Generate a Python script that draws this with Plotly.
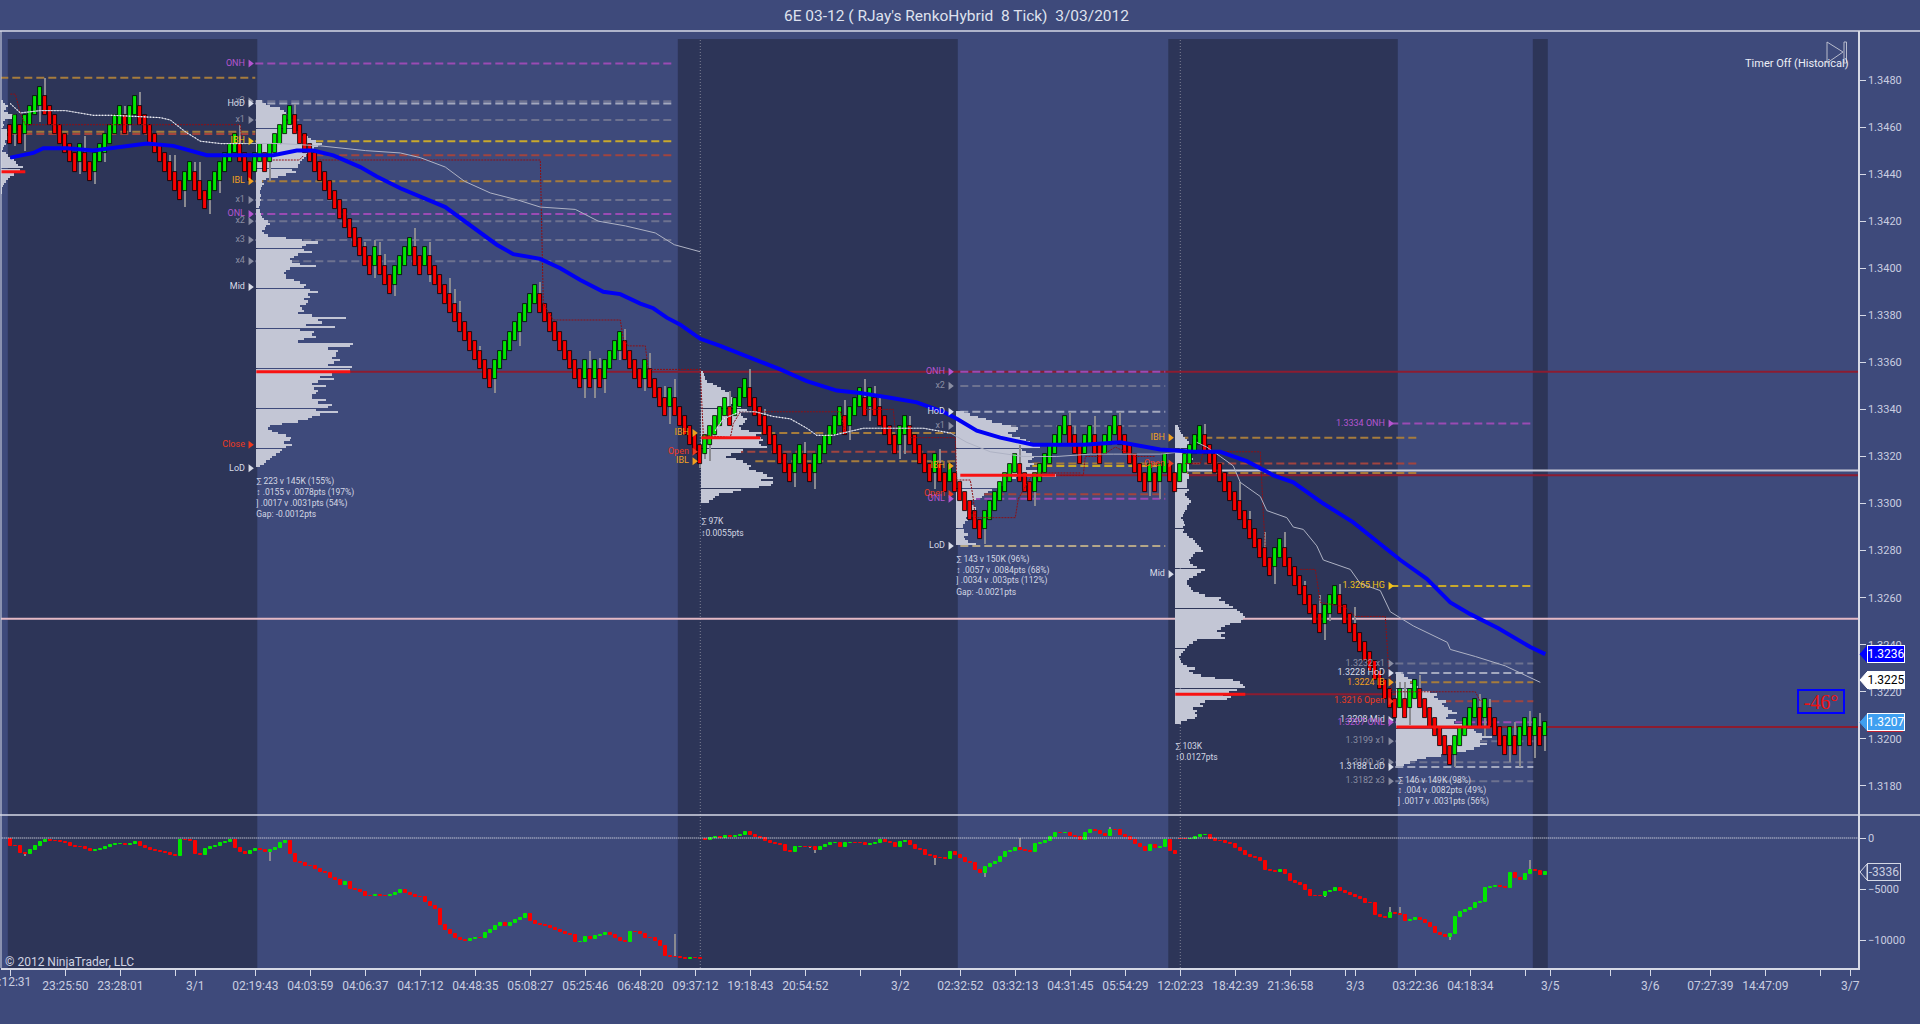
import plotly.graph_objects as go

# ---------- price panel: 8 tick renko bricks (close of each brick) ----------
brick_close = [
 1.3453,1.3465,1.3453,1.3465,1.3469,1.3473,1.3477,1.3465,1.3461,1.3457,
 1.3453,1.3449,1.3445,1.3441,1.3453,1.3441,1.3437,1.3449,1.3453,1.3457,
 1.3461,1.3465,1.3469,1.3457,1.3469,1.3473,1.3461,1.3457,1.3453,1.3449,
 1.3445,1.3441,1.3437,1.3433,1.3429,1.3441,1.3445,1.3433,1.3429,1.3425,
 1.3437,1.3441,1.3445,1.3449,1.3453,1.3457,1.3445,1.3441,1.3437,1.3449,
 1.3453,1.3441,1.3453,1.3457,1.3461,1.3465,1.3469,1.3457,1.3453,1.3449,
 1.3445,1.3441,1.3437,1.3433,1.3429,1.3425,1.3421,1.3417,1.3413,1.3409,
 1.3405,1.3401,1.3397,1.3409,1.3397,1.3393,1.3389,1.3401,1.3405,
 1.3409,1.3413,1.3401,1.3397,1.3409,1.3397,1.3393,1.3389,1.3385,1.3381,
 1.3377,1.3373,1.3369,1.3365,1.3361,1.3357,1.3353,1.3349,1.3361,1.3365,
 1.3369,1.3373,1.3377,1.3381,1.3385,1.3389,1.3393,1.3381,1.3377,1.3373,
 1.3369,1.3365,1.3361,1.3357,1.3353,1.3349,1.3361,1.3349,1.3361,1.3349,
 1.3361,1.3365,1.3369,1.3373,1.3361,1.3357,1.3353,1.3349,1.3361,1.3349,
 1.3345,1.3341,1.3337,1.3349,1.3337,1.3333,1.3329,1.3325,1.3321,1.3317,
 1.3329,1.3333,1.3337,1.3341,
 1.3345,1.3333,1.3345,1.3349,1.3353,1.3341,1.3337,1.3333,1.3329,1.3325,
 1.3321,1.3317,1.3313,1.3309,1.3321,1.3325,1.3313,1.3309,1.3321,1.3325,
 1.3329,1.3333,1.3337,1.3341,1.3329,1.3341,1.3345,1.3349,1.3337,1.3349,
 1.3337,1.3333,1.3329,1.3325,1.3321,1.3333,1.3337,1.3325,1.3321,1.3317,
 1.3313,1.3309,1.3321,1.3309,1.3305,1.3317,1.3305,1.3301,1.3297,1.3293,
 1.3289,1.3285,1.3297,1.3301,1.3305,1.3309,1.3313,1.3317,1.3321,1.3309,
 1.3305,1.3301,1.3313,1.3317,1.3321,1.3325,1.3329,1.3333,1.3337,1.3325,
 1.3321,1.3317,1.3329,
 1.3333,1.3321,1.3317,1.3329,1.3333,1.3337,1.3325,1.3321,1.3317,1.3313,
 1.3309,1.3305,1.3317,1.3305,1.3317,1.3321,1.3309,1.3305,1.3317,1.3321,
 1.3325,1.3329,1.3333,1.3321,1.3317,1.3313,1.3309,1.3305,1.3301,1.3297,
 1.3293,1.3289,1.3285,1.3281,1.3277,1.3273,1.3269,1.3281,1.3285,1.3273,
 1.3269,1.3265,1.3261,1.3257,1.3253,1.3249,1.3245,1.3257,1.3261,1.3265,
 1.3253,1.3249,1.3245,1.3241,1.3237,
 1.3233,1.3229,1.3225,1.3221,1.3217,1.3213,1.3209,1.3221,1.3209,1.3221,
 1.3225,1.3213,1.3209,1.3205,1.3201,1.3197,1.3193,1.3189,1.3201,1.3205,
 1.3209,1.3213,1.3217,1.3205,1.3217,1.3205,1.3201,1.3197,1.3193,1.3205,
 1.3193,1.3205,1.3209,1.3197,1.3209,1.3197,1.3207]
last_brick_open = 1.3201
brick_size = 0.0008

wick_bar = [1,3,6,7,14,15,17,19,23,24,26,32,33,35,37,38,40,42,46,52,57,71,73,73,74,75,
            77,81,84,84,88,89,90,94,97,102,106,115,116,117,118,119,122,123,127,128,131,132,133,
            138,139,140,144,148,151,157,159,161,167,168,171,172,173,174,178,179,180,185,186,195,202,205,
            212,213,217,222,228,230,239,246,248,251,253,255,259,262,263,264,266,269,
            278,279,280,282,289,294,295,296,300,301,302,304,305,306,307]
wick_price = [1.3452,1.3450,1.3462,1.3481,1.3440,1.3456,1.3436,1.3445,1.3469,1.3458,1.3475,1.3448,1.3448,1.3426,1.3445,1.3445,1.3423,1.3432,1.3461,1.3437,1.3470,1.3411,1.3412,1.3396,1.3411,1.3406,
            1.3388,1.3417,1.3411,1.3394,1.3396,1.3391,1.3386,1.3367,1.3347,1.3367,1.3394,1.3345,1.3365,1.3345,1.3362,1.3347,1.3361,1.3374,1.3348,1.3364,1.3350,1.3334,1.3353,
            1.3315,1.3319,1.3318,1.3348,1.3357,1.3340,1.3307,1.3326,1.3306,1.3344,1.3327,1.3353,1.3335,1.3350,1.3345,1.3319,1.3321,1.3337,1.3306,1.3323,1.3283,1.3325,1.3299,
            1.3339,1.3333,1.3337,1.3339,1.3303,1.3302,1.3334,1.3309,1.3297,1.3288,1.3266,1.3288,1.3267,1.3261,1.3242,1.3250,1.3266,1.3256,
            1.3224,1.3224,1.3206,1.3227,1.3188,1.3219,1.3201,1.3217,1.3190,1.3207,1.3188,1.3212,1.3192,1.3211,1.3195]

# ---------- moving average (blue) and session VWAP lines ----------
ema_bar = [0,4.6,6.6,11.3,16.6,20,24,27.3,32.6,39.3,47.3,52.6,57.3,60.6,64.6,70,73.3,78,87,93.3,97.3,100.6,106,110,114,118.6,122,126,128.6,131.3,134,138,142,
           154,159.3,165.3,170,176,181.3,186.6,189.3,193.3,198,204.6,209.3,214.6,222,230,236.6,242,247.3,252.6,256.6,262.6,268.6,274,278,283.3,288,292,297.6,304,307]
ema_price = [1.3447,1.3449,1.3451,1.3451,1.3450,1.3451,1.3452,1.3453,1.3452,1.3448,1.3448,1.3448,1.3450,1.3450,1.3448,1.3443,1.3439,1.3434,1.3426,1.3416,1.3410,1.3406,1.3404,1.3400,1.3395,1.3390,1.3389,1.3385,1.3383,1.3379,1.3376,1.3370,1.3367,
             1.3357,1.3352,1.3348,1.3347,1.3345,1.3343,1.3339,1.3336,1.3331,1.3328,1.3325,1.3325,1.3325,1.3326,1.3323,1.3322,1.3322,1.3318,1.3312,1.3309,1.3300,1.3292,1.3283,1.3276,1.3268,1.3258,1.3253,1.3247,1.3239,1.3236]

vwap1_bar = [0,2,6,11,16.6,20.6,30,32,35,38,42,47,51,54,62,71,78,82,87,90.8,96,101.5,106,113,117.6,123,129,132.8,138]
vwap1_price = [1.3470,1.3466,1.3467,1.3467,1.3465,1.3465,1.3464,1.3463,1.3458,1.3454,1.3453,1.3453,1.3453,1.3453,1.3452,1.3450,1.3449,1.3447,1.3443,1.3437,1.3432,1.3429,1.3426,1.3425,1.3420,1.3418,1.3415,1.3410,1.3407]
vwap2_bar = [141,142.6,146,149,152.6,156,159.3,161.3,164.6,170.6,176,182.6,188,191.3,196,202.6,209.3,216,220.6,230,234.6]
vwap2_price = [1.3331,1.3336,1.3339,1.3339,1.3337,1.3336,1.3332,1.3329,1.3329,1.3332,1.3332,1.3332,1.3330,1.3326,1.3322,1.3320,1.3320,1.3321,1.3321,1.3321,1.3322]
vwap3_bar = [237.3,239.3,242,244.6,246,250,251.3,255.3,256.6,258.6,261.3,262.6,268,270,274,276,280.6,285.3,287.4,288,293,299,306]
vwap3_price = [1.3326,1.3324,1.3320,1.3316,1.3309,1.3303,1.3297,1.3294,1.3290,1.3289,1.3282,1.3276,1.3272,1.3266,1.3263,1.3254,1.3248,1.3243,1.3241,1.3238,1.3235,1.3231,1.3224]

# ---------- dotted dark red swing steps ----------
swing_bar = [0,1,2,3,46,46.3,None,52.5,57.8,58.7,None,61.8,106,106.6,108.6,122,122.6,123.6,127,127.6,138,138.6,144,144.6,146,166,167,None,
             171,176.6,177,None,180,189,189.3,192,192.6,193,201,201.6,204.6,214,None,210,214.6,215,218,221,225,229,None,
             235,238,238.6,250,250.6,251,None,258,261,262,267,269,275,275.6,276.3,293,294]
swing_price = [1.3474,1.3474,1.3466,1.3461,1.3461,1.3454,None,1.3446,1.3446,1.3448,None,1.3446,1.3446,1.3385,1.3378,1.3378,1.3370,1.3367,1.3367,1.3357,1.3357,1.3329,1.3328,1.3334,1.3339,1.3339,1.3330,None,
               1.3340,1.3340,1.3331,None,1.3328,1.3328,1.3310,1.3310,1.3302,1.3294,1.3294,1.3302,1.3313,1.3313,None,1.3312,1.3312,1.3320,1.3320,1.3324,1.3320,1.3320,None,
               1.3317,1.3317,1.3322,1.3322,1.3296,1.3281,None,1.3272,1.3272,1.3258,1.3256,1.3252,1.3252,1.3232,1.3220,1.3220,1.3216]

# ---------- market profiles ----------
profile_start = [-2, 49.2, 138.2, 189.2, 233.0, 277.2]
profile_top = [1.3471, 1.3471, 1.3356, 1.3339, 1.3333, 1.3228]
profile0 = [3,5,8,6,4,8,16,12,5,3,4,3,7,9,7,10,8,5,6,4,3,2,6,8,10,14,16,18,23,20,16,14,10,8,6,4,3,2,2,1]
profile1 = [6,10,14,24,28,30,32,34,30,34,38,36,40,44,46,52,55,60,66,62,58,54,52,50,48,46,44,42,42,36,40,30,22,
            10,6,8,6,5,4,4,5,4,5,4,4,3,4,4,5,6,8,12,14,10,9,6,8,12,30,46,62,50,46,48,56,42,38,34,36,44,60,
            34,30,28,30,30,38,44,50,48,54,62,52,54,48,52,50,44,46,48,42,56,90,62,66,50,79,44,58,56,60,48,42,
            97,94,72,82,80,80,76,84,78,72,96,94,70,76,64,78,62,56,70,58,62,60,56,56,70,62,76,72,60,82,64,56,
            52,42,26,14,12,16,22,30,35,34,28,36,30,26,24,20,16,14,10,8,4]
profile2 = [2,3,4,4,6,12,16,20,24,28,30,32,34,35,30,40,46,38,40,42,46,44,42,38,40,48,60,55,60,62,58,60,66,42,40,30,25,35,42,46,50,48,55,62,66,72,60,72,70,58,40,32,18,14,12,8]
profile3 = [8,14,22,30,36,46,55,62,60,52,56,64,70,74,80,84,66,70,76,78,76,72,78,74,70,82,85,100,60,55,50,48,42,36,32,28,26,20,15,12,18,20,16,14,18,10,12,9,7,7,8,8,12,8,9,12,20]
profile4 = [3,4,5,6,8,10,12,14,14,12,12,10,14,16,18,16,14,14,14,12,12,14,14,12,12,12,12,14,12,10,12,14,16,14,12,12,10,9,
            8,6,8,9,10,8,9,8,12,14,18,20,22,24,26,28,20,18,16,14,15,18,22,30,26,22,18,14,12,12,14,16,18,24,30,46,
            44,50,54,58,62,65,68,70,68,66,55,50,46,42,50,46,50,22,18,14,12,10,8,6,4,5,6,8,12,20,14,18,26,40,58,65,68,70,
            62,54,48,56,52,30,25,28,18,22,20,22,20,12,6]
profile5 = [5,8,12,16,14,18,22,26,34,41,38,42,50,46,48,52,56,61,52,50,60,58,68,70,78,80,86,96,86,84,91,84,78,70,61,45,30,21,14,8]
profiles = [profile0, profile1, profile2, profile3, profile4, profile5]

# point of control segments: start bar, end bar, price
poc_start = [-2, 49.2, 138.2, 190, 233, 277.2]
poc_end = [3, 68, 150, 209, 247, 296]
poc_price = [1.3441, 1.3356, 1.3328, 1.3312, 1.3219, 1.3205]

# ---------- dashed session levels ----------
level_start = [-2,-2,-2, 49,49,49,49,49,49,49,49,49,49,49,49, 145,149,149, 190,190,190,190,190,190,190,190,190,
               234,234,234,276,276, 277,277,277,277,277,277,277,277,277]
level_end = [49,49,49, 133,133,133,133,133,133,133,133,133,133,133,133, 189,189,189, 231,231,231,231,231,231,231,231,231,
             282,282,282,304.6,304.6, 304.6,304.6,304.6,304.6,304.6,304.6,304.6,304.6,304.6]
level_price = [1.3481,1.3458,1.3457, 1.3487,1.3471,1.3470,1.3463,1.3454,1.3448,1.3437,1.3429,1.3423,1.3420,1.3412,1.3403,
               1.3322,1.3330,1.3318, 1.3356,1.3350,1.3339,1.3333,1.3316,1.3317,1.3304,1.3302,1.3282,
               1.3328,1.3317,1.3313,1.3334,1.3265, 1.3232,1.3228,1.3224,1.3216,1.3207,1.3199,1.3190,1.3188,1.3182]
level_kind = ['orange','orange','redb', 'purple','gray','hod','gray','gold','redb','orange','gray','purple','gray','gray','gray',
              'redb','orange','orange', 'purple','gray','hod','gray','gold','orange','redb','purple','tan',
              'orange','redb','orange','purple','gold', 'gray','hod','orange','redb','purple','gray','gray','hod','gray']
long_start = [49.2, 190, 234, -2, 233, 277.2]
long_price = [1.3356, 1.3312, 1.3314, 1.3251, 1.3219, 1.3205]
long_end = [369.6, 369.6, 369.6, 369.6, 277.5, 369.6]
long_kind = ['darkred','darkred','pale','pink','darkred','darkred']

# ---------- labels with arrows ----------
label_text = ['ONH','x3','HoD','x1','IBH','IBL','x1','ONL','x2','x3','x4','Mid','Close','LoD',
              'IBH','Open','IBL',
              'ONH','x2','HoD','x1','IBH','Open','ONL','LoD',
              'IBH','Open','Mid',
              '1.3334 ONH','1.3265 HG','1.3232 x1','1.3228 HoD','1.3224 IB','1.3216 Open','1.3208 Mid','1.3207 ONL','1.3199 x1','1.3190 x2','1.3188 LoD','1.3182 x3']
label_bar = [48]*14 + [136.8]*3 + [188]*8 + [232]*3 + [276]*12
label_price = [1.3487,1.3471,1.3470,1.3463,1.3454,1.3437,1.3429,1.3423,1.3420,1.3412,1.3403,1.3392,1.3325,1.3315,
               1.3330,1.3322,1.3318,
               1.3356,1.3350,1.3339,1.3333,1.3316,1.3304,1.3302,1.3282,
               1.3328,1.3317,1.3270,
               1.3334,1.3265,1.3232,1.3228,1.3224,1.3216,1.3208,1.3207,1.3199,1.3190,1.3188,1.3182]
label_kind = ['purple','gray','hod','gray','gold','orange','gray','purple','gray','gray','gray','hod','red','hod',
              'orange','red','orange',
              'purple','gray','hod','gray','orange','red','purple','hod',
              'orange','red','hod',
              'purple','gold','gray','hod','orange','red','hod','purple','gray','gray','hod','gray']

stats_text = ['∑ 223 v 145K (155%)','↕ .0155 v .0078pts (197%)','] .0017 v .0031pts (54%)','Gap: -0.0012pts',
              '∑ 97K','↕0.0055pts',
              '∑ 143 v 150K (96%)','↕ .0057 v .0084pts (68%)','] .0034 v .003pts (112%)','Gap: -0.0021pts',
              '∑ 103K','↕0.0127pts',
              '∑ 146 v 149K (98%)','↕ .004 v .0082pts (49%)','] .0017 v .0031pts (56%)']
stats_bar = [49.2]*4 + [138.2]*2 + [189.2]*4 + [233]*2 + [277.5]*3
stats_price = [1.3309,1.33045,1.3300,1.3295, 1.3292,1.3287, 1.3276,1.32715,1.3267,1.3262, 1.31965,1.3192, 1.3182,1.3178,1.3173]

# ---------- delta panel (close per bar; each reset starts a new series) ----------
delta_first_bar = [0, 139, 234]
delta_first_open = [-100, -130, -50]
delta_s0 = [-750,-820,-1470,-1540,-1140,-820,-430,-230,-260,-330,-360,-490,-750,-880,-920,-1080,-1240,-1210,-1080,-880,
 -720,-590,-560,-720,-590,-430,-820,-1010,-1140,-1310,-1370,-1470,-1640,-1800,-230,-230,-330,-1540,-1670,-1080,
 -880,-820,-490,-360,-160,-980,-1340,-1570,-1310,-1080,-1210,-1340,-1140,-980,-490,-260,-1540,-2320,-2450,-2710,
 -2780,-3010,-3370,-3430,-3920,-4150,-4580,-4350,-4970,-5130,-5330,-5660,-5660,-5620,-5660,-5720,-5560,-5400,-5130,-5400,
 -5560,-5790,-5790,-6310,-6640,-6930,-8500,-9060,-9380,-9810,-9970,-10140,-9910,-9810,-9810,-9320,-9060,-8670,-8340,-8670,
 -8340,-8080,-7850,-7490,-8180,-8400,-8530,-8670,-8830,-9060,-9190,-9380,-9520,-10240,-10170,-9710,-9910,-9650,-9480,-9320,
 -9480,-9810,-10140,-10240,-9220,-9250,-9380,-9780,-9810,-10140,-10560,-11540,-11670,-11710,-11740,-11870,-11800,-11800,-11840]
delta_s1 = [-200,-30,70,30,160,130,230,330,590,290,130,-30,-290,-490,-620,-720,-1310,-1370,-920,-850,
 -850,-920,-1180,-920,-650,-520,-460,-850,-520,-460,-460,-520,-650,-590,-520,-200,-390,-520,-850,-360,
 -260,-720,-1110,-1180,-1670,-1770,-2000,-2000,-2090,-1340,-1670,-1930,-2320,-2490,-3140,-3400,-2810,-2550,-2320,-1900,
 -1340,-1240,-1010,-1180,-1280,-1410,-620,-520,-260,130,460,460,520,200,130,-200,460,780,650,390,
 200,780,780,260,70,-200,-590,-920,-1240,-690,-1010,-850,-200,-1240,-1600]
delta_s2 = [-130,-130,-100,70,290,330,-70,-260,-330,-460,-590,-1010,-1310,-1670,-1830,-1960,-2220,-3140,-3240,-3300,
 -3140,-3530,-4250,-4380,-4610,-5100,-5660,-5660,-5660,-5260,-5170,-4870,-5170,-5430,-5590,-5820,-5980,-6410,-6410,-7550,
 -7720,-7880,-7390,-7490,-7550,-8180,-8040,-7880,-8040,-8310,-8700,-9290,-9520,-9680,-9420,-7720,-7230,-7060,-6900,-6410,
 -6250,-4940,-4840,-4710,-4840,-4940,-3400,-3960,-4120,-3530,-3140,-3240,-3630,-3336]
delta_sessions = [delta_s0, delta_s1, delta_s2]
delta_wick_bar = [3,52,133,161,185,195,202,220,263,276,288,304,278,160]
delta_wick_val = [-1700,-2290,-9380,-1500,-2650,-3790,-30,1100,-5750,-6740,-10000,-2160,-6740,-900]

# ---------- axes ----------
tick_bar = [0,11,22,33,37,49,60,71,82,93,104,115,126,137,148,159,170,178,190,201,212,223,234,245,256,267,269,281,292,303,308,320,328,340,351,362,368]
tick_text = ['','23:25:50','23:28:01','','3/1','02:19:43','04:03:59','04:06:37','04:17:12','04:48:35','05:08:27','05:25:46','06:48:20',
             '09:37:12','19:18:43','20:54:52','','3/2','02:32:52','03:32:13','04:31:45','05:54:29','12:02:23','18:42:39','21:36:58','','3/3',
             '03:22:36','04:18:34','','3/5','','3/6','07:27:39','14:47:09','','3/7']
first_tick_text = '23:12:31'
price_ticks = [1.3180,1.3200,1.3220,1.3240,1.3260,1.3280,1.3300,1.3320,1.3340,1.3360,1.3380,1.3400,1.3420,1.3440,1.3460,1.3480]
delta_ticks = [0,-5000,-10000]

dark_start = [-0.5, 133.5, 231.6, 304.5]
dark_end = [49.4, 189.5, 277.5, 307.5]
session_marks = [138, 234]

tag_price = [1.3236, 1.3225, 1.3207]
tag_delta = -3336

# ---------- styling ----------
BG = '#3e4a7b'; DARK = '#2d3558'; TXT = '#c9cde0'; FRAME = '#d6d9e6'
KIND = {'gray':'#6d7290','hod':'#a3a8be','purple':'#9a4bb4','gold':'#c9a92c','orange':'#a67c3c','redb':'#a1443f','tan':'#b4a688'}
LABEL = {'gray':'#8a8ea2','hod':'#d8dce8','purple':'#b455d0','gold':'#f2c21a','orange':'#f0a020','red':'#ee3a20'}
LONG = {'darkred':('#8c1c30',2),'pale':('#c8cad8',2),'pink':('#e4b9c4',2)}
UP = '#00e800'; DOWN = '#fa0000'; WICK = '#8a8a90'
X0, PX = 10.3, 5.0
L, R, T, B = 1, 1858, 31, 968
W = R - L; H = B - T; SPLIT = 815
def xp(px): return (px - L) / W
def yp(py): return (B - py) / H

n = len(brick_close)
bars = list(range(n))
brick_open = []
for i, c in enumerate(brick_close):
    up = i > 0 and c > brick_close[i - 1]
    brick_open.append(round(c - brick_size if up else c + brick_size, 4))
brick_open[-1] = last_brick_open
brick_color = [UP if c > o else DOWN for o, c in zip(brick_open, brick_close)]

fig = go.Figure()

# profiles
for start, top, rows in zip(profile_start, profile_top, profiles):
    fig.add_trace(go.Bar(orientation='h', y=[round(top - 0.0001 * i, 4) for i in range(len(rows))],
                         x=[w / PX for w in rows], base=start, width=0.000078,
                         marker=dict(color='#c3c6d5', line=dict(width=0)), showlegend=False))

# wicks and bricks
wick_base, wick_h = [], []
for b, p in zip(wick_bar, wick_price):
    mid = (brick_open[b] + brick_close[b]) / 2
    wick_base.append(min(mid, p)); wick_h.append(abs(p - mid))
fig.add_trace(go.Bar(x=wick_bar, y=wick_h, base=wick_base, width=0.22, marker=dict(color=WICK, line=dict(width=0)), showlegend=False))
fig.add_trace(go.Bar(x=bars, y=[abs(c - o) for o, c in zip(brick_open, brick_close)], base=[min(o, c) for o, c in zip(brick_open, brick_close)],
                     width=0.8, marker=dict(color=brick_color, line=dict(color='black', width=0.8)), showlegend=False))

# lines
fig.add_trace(go.Scatter(x=swing_bar, y=swing_price, mode='lines', line=dict(color='#8e0f14', width=1, dash='2px,1px'), connectgaps=False, showlegend=False))
for vb, vp in ((vwap1_bar, vwap1_price), (vwap2_bar, vwap2_price), (vwap3_bar, vwap3_price)):
    fig.add_trace(go.Scatter(x=vb, y=vp, mode='lines', line=dict(color='#aeb2c4', width=1), showlegend=False))
    db = [b if (b < 49.4 or 133.5 <= b < 189.5) else None for b in vb]
    fig.add_trace(go.Scatter(x=db, y=vp, mode='lines', line=dict(color='#f2f2f6', width=1.2, dash='1px,2px'), showlegend=False))
fig.add_trace(go.Scatter(x=ema_bar, y=ema_price, mode='lines', line=dict(color='#0000f5', width=4), showlegend=False))

# POC segments
for s, e, p in zip(poc_start, poc_end, poc_price):
    fig.add_trace(go.Scatter(x=[s, e], y=[p, p], mode='lines', line=dict(color='#f81212', width=3), showlegend=False))

# labels
fig.add_trace(go.Scatter(x=label_bar, y=label_price, mode='markers+text', text=label_text, textposition='middle left',
                         textfont=dict(family='Roboto', size=9, color=[LABEL[k] for k in label_kind]),
                         marker=dict(symbol='triangle-right', size=7, color=[LABEL[k] for k in label_kind]), showlegend=False))
fig.add_trace(go.Scatter(x=stats_bar, y=stats_price, mode='text', text=stats_text, textposition='middle right',
                         textfont=dict(family='Roboto', size=8.5, color='#d4d7e4'), showlegend=False))

# delta panel
dbars, dopen, dclose = [], [], []
for first, op, vals in zip(delta_first_bar, delta_first_open, delta_sessions):
    prev = op
    for k, v in enumerate(vals):
        dbars.append(first + k); dopen.append(prev); dclose.append(v); prev = v
dmap = {b: (o, c) for b, o, c in zip(dbars, dopen, dclose)}
dw_base, dw_h = [], []
for b, v in zip(delta_wick_bar, delta_wick_val):
    o, c = dmap[b]; m = (o + c) / 2
    dw_base.append(min(m, v)); dw_h.append(abs(v - m))
fig.add_trace(go.Bar(x=delta_wick_bar, y=dw_h, base=dw_base, width=0.22, yaxis='y2', marker=dict(color=WICK, line=dict(width=0)), showlegend=False))
dcolor = [UP if c > o else DOWN for o, c in zip(dopen, dclose)]
fig.add_trace(go.Bar(x=dbars, y=[abs(c - o) for o, c in zip(dopen, dclose)], base=[min(o, c) for o, c in zip(dopen, dclose)], width=0.72, yaxis='y2',
                     marker=dict(color=dcolor, line=dict(color=dcolor, width=1)), showlegend=False))
fig.add_trace(go.Scatter(x=[-2, 369.6], y=[0, 0], yaxis='y2', mode='lines', line=dict(color='#f4f4f8', width=1.2, dash='1px,1px'), showlegend=False))

# shapes
shapes = []
for s, e in zip(dark_start, dark_end):
    shapes.append(dict(type='rect', xref='x', yref='paper', x0=s, x1=e, y0=0, y1=yp(39), fillcolor=DARK, line=dict(width=0), layer='below'))
for m in session_marks:
    shapes.append(dict(type='line', xref='x', yref='paper', x0=m, x1=m, y0=0, y1=yp(39), line=dict(color='#7c8094', width=1, dash='1px,2px'), layer='below'))
for s, e, p, k in zip(long_start, long_end, long_price, long_kind):
    c, w = LONG[k]
    shapes.append(dict(type='line', xref='x', yref='y', x0=s, x1=e, y0=p, y1=p, line=dict(color=c, width=w), layer='below'))
for s, e, p, k in zip(level_start, level_end, level_price, level_kind):
    shapes.append(dict(type='line', xref='x', yref='y', x0=s, x1=e, y0=p, y1=p, line=dict(color=KIND[k], width=2, dash='8px,4px'), layer='below'))
for py in (T, SPLIT):
    shapes.append(dict(type='line', xref='paper', yref='paper', x0=-L / W, x1=xp(1920), y0=yp(py), y1=yp(py), line=dict(color=FRAME, width=1.5)))
shapes.append(dict(type='line', xref='paper', yref='paper', x0=xp(1), x1=xp(1), y0=0, y1=1, line=dict(color=FRAME, width=1)))
# historical-timer icon
shapes.append(dict(type='path', xref='paper', yref='paper', line=dict(color='#b9bccd', width=1),
                   path=f'M {xp(1827)} {yp(42)} L {xp(1843)} {yp(52)} L {xp(1827)} {yp(63)} Z'))
shapes.append(dict(type='rect', xref='paper', yref='paper', x0=xp(1844), x1=xp(1846.5), y0=yp(63), y1=yp(42), line=dict(color='#b9bccd', width=1)))
# arrow tips of the value tags
tag_fill = ['#0000ff', '#ffffff', '#3f9ff0']
for p, col in zip(tag_price, tag_fill):
    dy = 8 / 23530
    shapes.append(dict(type='path', xref='paper', yref='y', fillcolor=col, line=dict(color=col, width=1),
                       path=f'M {xp(1860)} {p} L {xp(1867)} {p + dy} L {xp(1867)} {p - dy} Z'))
shapes.append(dict(type='line', xref='paper', yref='y', x0=xp(1867), x1=xp(1903), y0=tag_price[2] - 9 / 23530, y1=tag_price[2] - 9 / 23530, line=dict(color='#c02030', width=1.5)))
dy2 = 8 / 51 * 5000
shapes.append(dict(type='path', xref='paper', yref='y2', fillcolor=BG, line=dict(color=FRAME, width=1),
                   path=f'M {xp(1860)} {tag_delta} L {xp(1867)} {tag_delta + dy2} L {xp(1867)} {tag_delta - dy2} Z'))

# annotations
ann = [
    dict(text="6E 03-12 ( RJay's RenkoHybrid \u00a08 Tick) \u00a03/03/2012", xref='paper', yref='paper', x=xp(956), y=yp(16), showarrow=False,
         font=dict(family='Roboto', size=15.5, color='#dfe2ee'), xanchor='center', yanchor='middle'),
    dict(text='Timer Off (Historical)', xref='paper', yref='paper', x=xp(1851), y=yp(63), showarrow=False,
         font=dict(family='Roboto', size=11, color='#eceef6'), xanchor='right', yanchor='middle'),
    dict(text='© 2012 NinjaTrader, LLC', xref='paper', yref='paper', x=xp(3), y=yp(962), showarrow=False,
         font=dict(family='Roboto', size=12, color='#d0d3e2'), xanchor='left', yanchor='middle'),
    dict(text=first_tick_text, xref='paper', yref='paper', x=xp(33), y=yp(982), showarrow=False, xanchor='right', yanchor='middle',
         font=dict(family='Roboto', size=12, color=TXT)),
    dict(text='-46°', xref='paper', yref='y', x=xp(1820.5), y=1.32159, showarrow=False, width=44, height=21,
         font=dict(family='Liberation Serif', size=20, color='#f01010'), bordercolor='#0000ff', borderwidth=2, borderpad=0, xanchor='center', yanchor='middle'),
]
tag_text_color = ['#ffffff', '#000000', '#ffffff']
for p, bg, fc in zip(tag_price, tag_fill, tag_text_color):
    ann.append(dict(text=f'{p:.4f}', xref='paper', yref='y', x=xp(1867), y=p, showarrow=False, xanchor='left', yanchor='middle', width=36, height=16,
                    bgcolor=bg, bordercolor='#ffffff', borderwidth=1, borderpad=0, font=dict(family='Roboto', size=12, color=fc)))
ann.append(dict(text=f'{tag_delta}', xref='paper', yref='y2', x=xp(1867), y=tag_delta, showarrow=False, xanchor='left', yanchor='middle', width=32, height=16,
                bgcolor=BG, bordercolor=FRAME, borderwidth=1, borderpad=0, font=dict(family='Roboto', size=12, color=TXT)))

axis_font = dict(family='Roboto', size=12, color=TXT)
y_font = dict(family='Roboto', size=11, color=TXT)
fig.update_layout(
    width=1920, height=1024, autosize=False, paper_bgcolor=BG, plot_bgcolor=BG, barmode='overlay', showlegend=False,
    margin=dict(l=L, r=1920 - R, t=T, b=1024 - B, pad=0), shapes=shapes, annotations=ann, bargap=0,
    xaxis=dict(range=[(L - X0) / PX, (R - X0) / PX], tickmode='array', tickvals=tick_bar, ticktext=tick_text, tickangle=0, showgrid=False, zeroline=False,
               anchor='y2', ticks='outside', ticklen=6, tickcolor=FRAME, tickwidth=1, tickfont=axis_font, showline=True, linecolor=FRAME, linewidth=1.5),
    yaxis=dict(domain=[yp(SPLIT), 1], range=[1.3480 - (SPLIT - 80) / 23530, 1.3480 + (80 - T) / 23530], side='right', anchor='x', tickmode='array', tickvals=price_ticks,
               tickformat='.4f', showgrid=False, zeroline=False, ticks='outside', ticklen=6, tickcolor=FRAME, tickfont=y_font, showline=True, linecolor=FRAME, linewidth=1.5),
    yaxis2=dict(domain=[0, yp(SPLIT)], range=[-(B - 838) / 51 * 5000, (838 - SPLIT) / 51 * 5000], side='right', anchor='x', tickmode='array', tickvals=delta_ticks,
                tickformat='d', showgrid=False, zeroline=False, ticks='outside', ticklen=6, tickcolor=FRAME, tickfont=y_font, showline=True, linecolor=FRAME, linewidth=1.5),
)
fig.write_html('out.html', config=dict(displayModeBar=False),
               post_script="document.documentElement.style.margin='0';document.body.style.margin='0';document.body.style.overflow='hidden';")
